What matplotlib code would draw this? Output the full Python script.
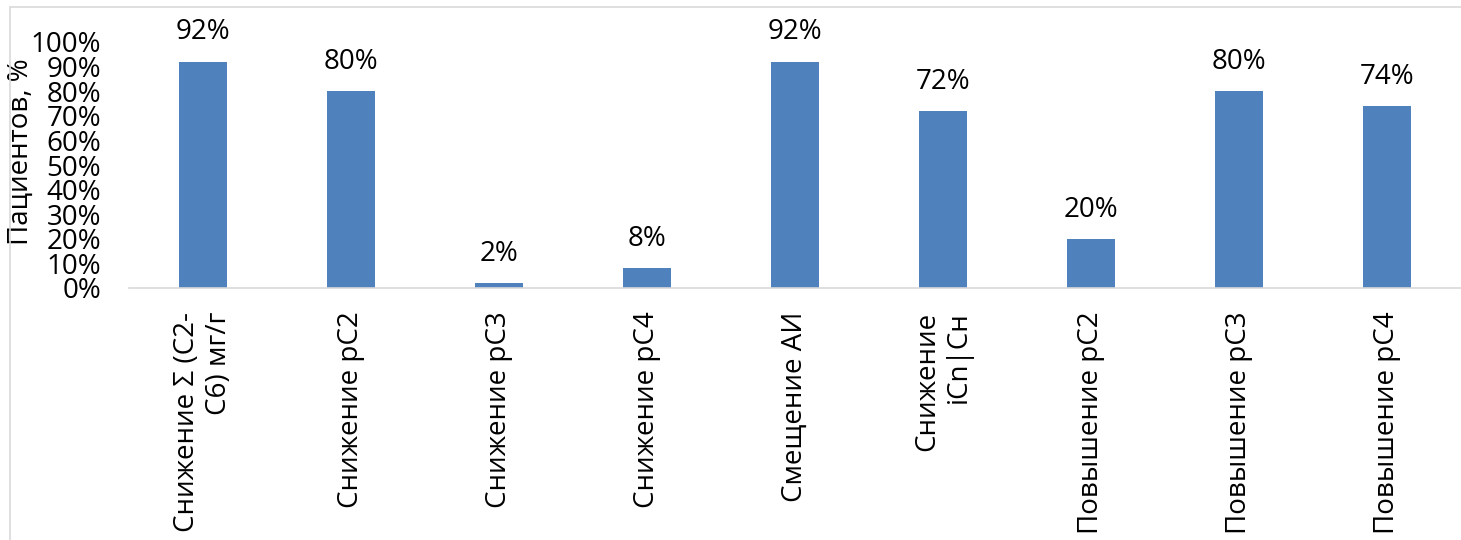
import matplotlib
matplotlib.use("Agg")
import matplotlib.pyplot as plt
from matplotlib.patches import Rectangle
from matplotlib.ticker import PercentFormatter

categories = [
    "Снижение Σ (С2-\nС6) мг/г",
    "Снижение рС2",
    "Снижение рС3",
    "Снижение рС4",
    "Смещение АИ",
    "Снижение\niCn|Cн",
    "Повышение рС2",
    "Повышение рС3",
    "Повышение рС4",
]
values = [92, 80, 2, 8, 92, 72, 20, 80, 74]
value_labels = ["92%", "80%", "2%", "8%", "92%", "72%", "20%", "80%", "74%"]
y_ticks = [0, 10, 20, 30, 40, 50, 60, 70, 80, 90, 100]
y_label = "Пациентов, %"

plt.rcParams["font.family"] = ["Open Sans", "DejaVu Sans"]
FS = 20

fig = plt.figure(figsize=(14.61, 5.4), dpi=100)
ax = fig.add_axes([129 / 1461, (540 - 288) / 540, (1461 - 129) / 1461, 246 / 540])

x = list(range(len(categories)))
bars = ax.bar(x, values, width=0.32, color="#4F81BD")
for xi, v, lab in zip(x, values, value_labels):
    ax.annotate(lab, (xi, v), xytext=(0, 11), textcoords="offset points",
                ha="center", va="bottom", fontsize=FS, color="black")

ax.set_xlim(-0.5, len(categories) - 0.5)
ax.set_ylim(0, 100)
ax.set_yticks(y_ticks)
ax.yaxis.set_major_formatter(PercentFormatter(decimals=0))
ax.set_xticks(x)
ax.set_xticklabels(categories, rotation=90, ha="center", va="top",
                   multialignment="right", fontsize=FS)
ax.tick_params(axis="y", length=0, labelsize=FS, pad=20)
ax.tick_params(axis="x", length=0, pad=17)
for s in ["top", "right", "left"]:
    ax.spines[s].set_visible(False)
ax.spines["bottom"].set_color("#d9d9d9")
ax.spines["bottom"].set_linewidth(1.2)

ax.set_ylabel(y_label, fontsize=FS)
ax.yaxis.set_label_coords(-0.0706, 0.553)

fig.patches.append(Rectangle((10 / 1461, -0.01), 1.05, (540 - 7) / 540 + 0.01,
                             transform=fig.transFigure, fill=False,
                             edgecolor="#d9d9d9", linewidth=1.2))

fig.savefig("out.png", dpi=100)
